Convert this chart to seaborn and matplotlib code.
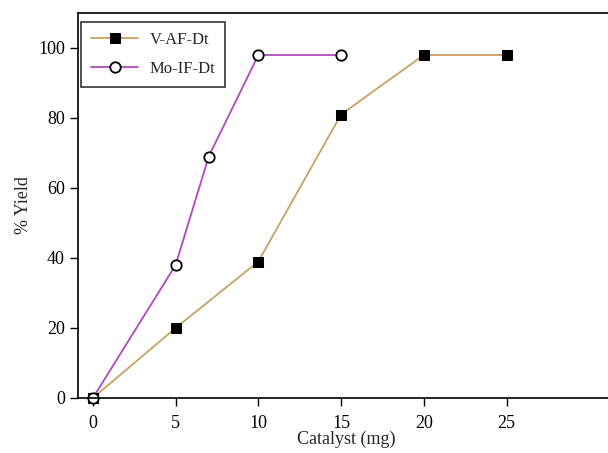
import matplotlib
matplotlib.use("Agg")
import matplotlib.pyplot as plt
import seaborn as sns
import pandas as pd

# Data
v_x = [0, 5, 10, 15, 20, 25]
v_y = [0, 20, 39, 81, 98, 98]
mo_x = [0, 5, 7, 10, 15]
mo_y = [0, 38, 69, 98, 98]
series_names = ["V-AF-Dt", "Mo-IF-Dt"]
x_ticks = [0, 5, 10, 15, 20, 25]
y_ticks = [0, 20, 40, 60, 80, 100]

sns.set_style("white")
plt.rcParams['font.family'] = ['Liberation Serif', 'DejaVu Serif']

fig = plt.figure(figsize=(6.08, 4.53), dpi=100)
ax = fig.add_axes([78/608, 55/453, 1.01 - 78/608, (398-13)/453])

df_v = pd.DataFrame({"x": v_x, "y": v_y})
df_mo = pd.DataFrame({"x": mo_x, "y": mo_y})

sns.lineplot(data=df_v, x="x", y="y", ax=ax, color="#C9A063", lw=1.3,
             marker="s", markersize=7, markerfacecolor="black",
             markeredgecolor="black", label=series_names[0], clip_on=False)
sns.lineplot(data=df_mo, x="x", y="y", ax=ax, color="#B048C0", lw=1.3,
             marker="o", markersize=7.5, markerfacecolor="white",
             markeredgecolor="black", markeredgewidth=1.3,
             label=series_names[1], clip_on=False)

ax.set_xlim(-0.9, 31.5)
ax.set_ylim(0, 110)
ax.set_xticks(x_ticks)
ax.set_yticks(y_ticks)
ax.tick_params(axis="both", direction="out", length=6, width=1, labelsize=13,
               bottom=True, left=True, colors="black")
ax.tick_params(axis="x", pad=6)
for s in ["left", "top", "bottom"]:
    ax.spines[s].set_color("black")
    ax.spines[s].set_linewidth(1.2)
ax.spines["right"].set_visible(False)

ax.set_xlabel("Catalyst (mg)", fontsize=13, labelpad=-1)
ax.set_ylabel("% Yield", fontsize=13, labelpad=4)

leg = ax.legend(loc="upper left", bbox_to_anchor=(0.006, 0.976), fontsize=12,
                frameon=True, fancybox=False, edgecolor="black",
                handlelength=2.8, handletextpad=0.7, borderpad=0.6,
                labelspacing=0.75, borderaxespad=0)
leg.get_frame().set_linewidth(1.2)

fig.savefig("out.png", dpi=100)
